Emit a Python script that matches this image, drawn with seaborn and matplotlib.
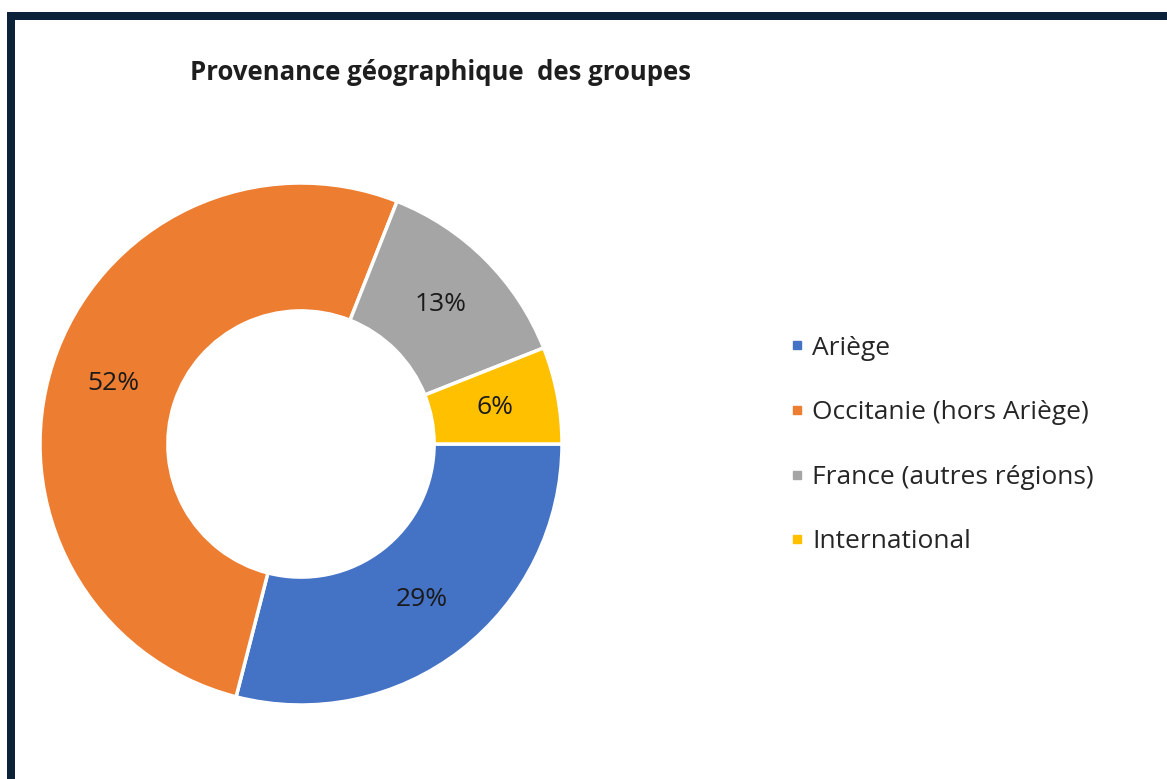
import matplotlib
matplotlib.use("Agg")
import matplotlib.pyplot as plt
import seaborn as sns
from matplotlib.patches import Rectangle
from matplotlib.lines import Line2D

# data
categories = ["Ariège", "Occitanie (hors Ariège)", "France (autres régions)", "International"]
shares = [29, 52, 13, 6]
colors = ["#4472C4", "#ED7D31", "#A5A5A5", "#FFC000"]
title = "Provenance géographique  des groupes"

sns.set_theme(style="white")
plt.rcParams["font.family"] = ["Open Sans", "DejaVu Sans"]

W, H = 1167, 779
fig = plt.figure(figsize=(W / 100, H / 100), dpi=100)
fig.patch.set_facecolor("white")

# dark frame around the chart area
fig.patches.append(Rectangle((11 / W, -0.2), 1.3, 1.2 - 16 / H,
                             transform=fig.transFigure, fill=False,
                             edgecolor="#0B2239", linewidth=8 * 0.72))

# donut: centre (301, 444) px, outer radius 261 px
cx, cy, r = 301, 444, 261
ax = fig.add_axes([(cx - r) / W, (H - cy - r) / H, 2 * r / W, 2 * r / H])
palette = sns.color_palette(colors)
wedges, _, autotexts = ax.pie(
    shares, colors=palette, startangle=0, counterclock=False, radius=1,
    autopct=lambda p: f"{p:.0f}%", pctdistance=0.755,
    wedgeprops=dict(width=0.49, edgecolor="white", linewidth=2.5),
    textprops=dict(fontsize=19, color="#1a1a1a"))
ax.set_xlim(-1, 1)
ax.set_ylim(-1, 1)
ax.set_aspect("equal")
ax.axis("off")

fig.text(440 / W, 1 - 72 / H, title, ha="center", va="center",
         fontsize=18.5, fontweight="bold", color="#1e1e1e")

handles = [Line2D([], [], marker="s", linestyle="", markersize=5.5,
                  markerfacecolor=c, markeredgecolor=c) for c in palette]
fig.legend(handles, categories, loc="center left",
           bbox_to_anchor=(765 / W, 1 - 445 / H), frameon=False,
           fontsize=19, labelspacing=1.5, handlelength=0.6,
           handletextpad=0.3, labelcolor="#262626")

fig.savefig("out.png", dpi=100, facecolor="white")
